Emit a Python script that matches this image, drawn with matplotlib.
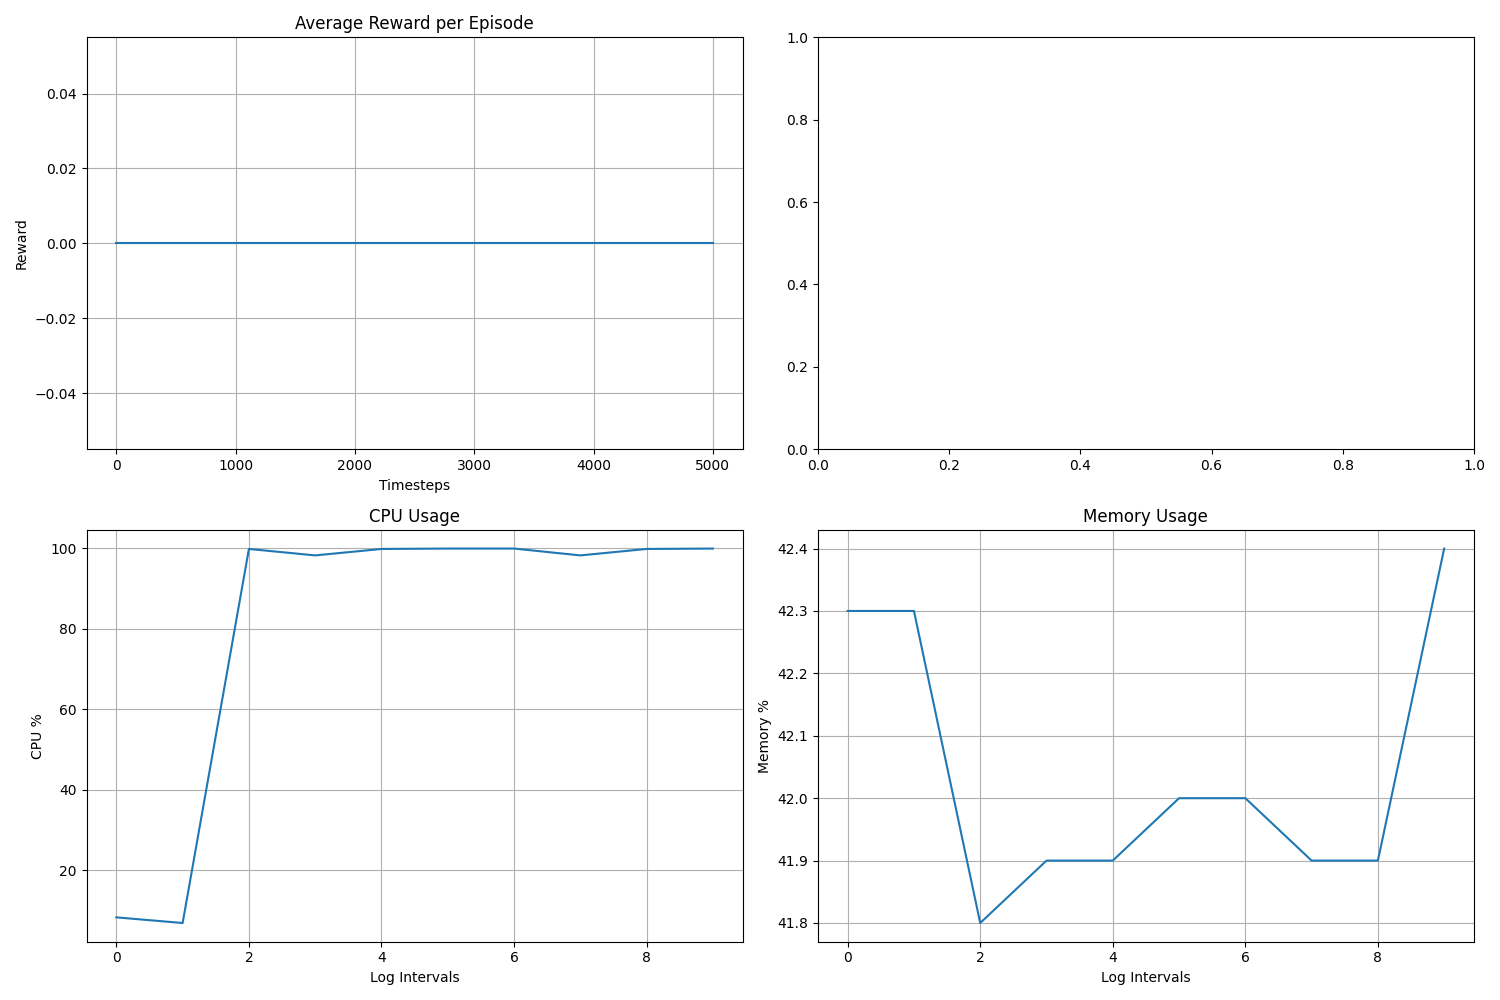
import matplotlib
matplotlib.use("Agg")
import matplotlib.pyplot as plt

reward_steps = [0, 1000, 2000, 3000, 4000, 5000]
reward_values = [0, 0, 0, 0, 0, 0]
intervals = list(range(10))
cpu = [8.3, 6.9, 99.8, 98.2, 99.8, 99.9, 99.9, 98.2, 99.8, 99.9]
memory = [42.3, 42.3, 41.8, 41.9, 41.9, 42.0, 42.0, 41.9, 41.9, 42.4]

fig, axs = plt.subplots(2, 2, figsize=(15, 10), dpi=100)
ax = axs[0, 0]
ax.plot(reward_steps, reward_values)
ax.set_title("Average Reward per Episode")
ax.set_xlabel("Timesteps")
ax.set_ylabel("Reward")
ax.grid(True)

ax = axs[1, 0]
ax.plot(intervals, cpu)
ax.set_title("CPU Usage")
ax.set_xlabel("Log Intervals")
ax.set_ylabel("CPU %")
ax.grid(True)

ax = axs[1, 1]
ax.plot(intervals, memory)
ax.set_title("Memory Usage")
ax.set_xlabel("Log Intervals")
ax.set_ylabel("Memory %")
ax.grid(True)

plt.tight_layout()
plt.savefig("out.png")
